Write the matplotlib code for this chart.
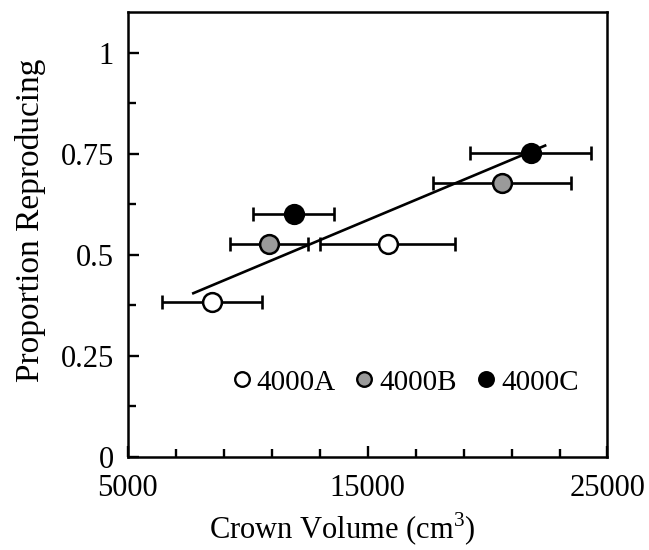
import numpy as np
import matplotlib
matplotlib.use("Agg")
import matplotlib.pyplot as plt
from matplotlib.ticker import FixedLocator

plt.rcParams['font.family'] = ['Liberation Serif', 'DejaVu Serif']
plt.rcParams['mathtext.fontset'] = 'custom'
plt.rcParams['mathtext.rm'] = 'Liberation Serif'

# data
sites = ["4000A", "4000B", "4000C"]
volume = {"4000A": [8520, 15830], "4000B": [10890, 20600], "4000C": [11910, 21800]}
volume_err = {"4000A": [2090, 2800], "4000B": [1640, 2880], "4000C": [1700, 2530]}
proportion = {"4000A": [0.383, 0.526], "4000B": [0.526, 0.678], "4000C": [0.602, 0.751]}
trend_x = [7730, 22400]
trend_y = [0.405, 0.770]

x_major = [5000, 15000, 25000]
x_minor = list(range(7000, 25000, 2000))
y_major = [0, 0.25, 0.5, 0.75, 1]
y_minor = [0.125, 0.375, 0.625, 0.875]

fills = {"4000A": "white", "4000B": "#9a9a9a", "4000C": "black"}

fig = plt.figure(figsize=(6.49, 5.5), dpi=100)
ax = fig.add_axes([0.197, 0.169, 0.739, 0.809])

ax.plot(trend_x, trend_y, color="black", lw=1.9, zorder=2)

for s in sites:
    ax.errorbar(volume[s], proportion[s], xerr=volume_err[s], fmt="none",
                ecolor="black", elinewidth=1.9, capsize=5, capthick=1.9, zorder=1)
    ax.plot(volume[s], proportion[s], "o", ms=13.5, mfc=fills[s], mec="black",
            mew=1.8, ls="none", zorder=3)
    # legend handle
    ax.plot([], [], "o", ms=10.5, mfc=fills[s], mec="black", mew=1.7, ls="none", label=s)

ax.set_xlim(5000, 25000)
ax.set_ylim(0, 1.1)
ax.xaxis.set_major_locator(FixedLocator(x_major))
ax.xaxis.set_minor_locator(FixedLocator(x_minor))
ax.yaxis.set_major_locator(FixedLocator(y_major))
ax.yaxis.set_minor_locator(FixedLocator(y_minor))
ax.set_xticklabels([str(v) for v in x_major])
ax.set_yticklabels(["0", "0.25", "0.5", "0.75", "1"])

ax.tick_params(which="both", direction="in", top=False, right=False, width=1.7,
               labelsize=22)
ax.tick_params(axis="x", which="major", pad=12)
ax.tick_params(axis="y", which="major", pad=10)
ax.tick_params(which="major", length=8)
ax.tick_params(which="minor", length=6)
for sp in ax.spines.values():
    sp.set_linewidth(1.8)

ax.set_xlabel("Crown Volume (cm$^3$)", fontsize=22)
ax.set_ylabel("Proportion Reproducing", fontsize=24)
ax.xaxis.set_label_coords(0.447, -0.122)
ax.yaxis.set_label_coords(-0.17, 0.533)

ax.legend(loc="center", bbox_to_anchor=(0.58, 0.168), ncol=3, frameon=False,
          fontsize=21, handletextpad=0.25, columnspacing=0.7, handlelength=0.55,
          borderaxespad=0, borderpad=0)

fig.savefig("out.png", dpi=100)
